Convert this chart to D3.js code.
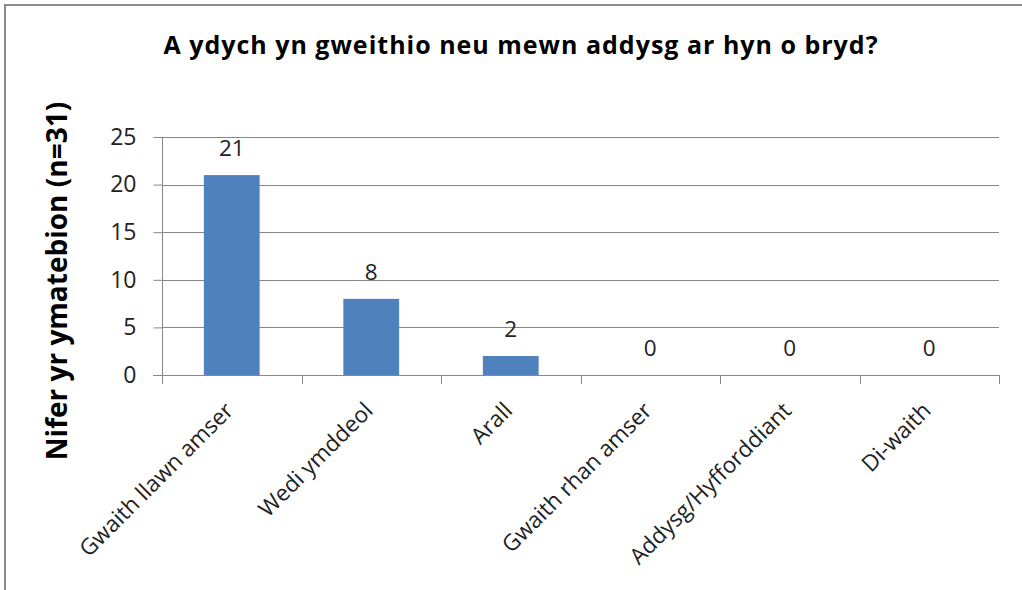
<!DOCTYPE html>
<html><head><meta charset="utf-8">
<script src="https://cdn.jsdelivr.net/npm/d3@7"></script>
<style>body{margin:0;background:#fff}svg{display:block}</style>
</head><body>
<script>
const title = "A ydych yn gweithio neu mewn addysg ar hyn o bryd?";
const yLabel = "Nifer yr ymatebion (n=31)";
const categories = ["Gwaith llawn amser","Wedi ymddeol","Arall","Gwaith rhan amser","Addysg/Hyfforddiant","Di-waith"];
const values = [21, 8, 2, 0, 0, 0];
const yTicks = [0, 5, 10, 15, 20, 25];

const W = 1022, H = 590;
const font = "'Open Sans', 'Liberation Sans', sans-serif";
const svg = d3.select("body").append("svg").attr("width", W).attr("height", H);
svg.append("rect").attr("width", W).attr("height", H).attr("fill", "#fff");
// frame (top and left visible)
svg.append("path").attr("d", `M5,${H} V5 H${W}`).attr("fill","none").attr("stroke","#8c8c8c").attr("stroke-width",2);

const x = d3.scaleBand().domain(categories).range([162, 999]).paddingInner(0.6).paddingOuter(0.3);
const xt = d3.scaleBand().domain(categories).range([162, 999]);
const y = d3.scaleLinear().domain([0, 25]).range([375, 137]);

// gridlines
svg.append("g").selectAll("line").data(yTicks.slice(1)).join("line")
  .attr("x1", 162).attr("x2", 999).attr("y1", d => Math.round(y(d))+0.5).attr("y2", d => Math.round(y(d))+0.5)
  .attr("stroke", "#878787").attr("stroke-width", 1);

// y axis
const yAxis = svg.append("g").attr("transform", "translate(162.5,0)")
  .call(d3.axisLeft(y).tickValues(yTicks).tickSize(9).tickPadding(17));
yAxis.select(".domain").attr("stroke", "#878787").attr("d", `M0,${y(25)}V${y(0)}`);
yAxis.selectAll(".tick line").attr("stroke", "#878787");
yAxis.selectAll(".tick text").attr("font-family", font).attr("font-size", 23).attr("fill", "#222");

// bars
svg.append("g").selectAll("rect").data(values).join("rect")
  .attr("x", (d,i) => x(categories[i])).attr("width", x.bandwidth())
  .attr("y", d => y(d)).attr("height", d => y(0) - y(d))
  .attr("fill", "#4f81bd");

// x axis
const xAxis = svg.append("g").attr("transform", `translate(0,${Math.round(y(0))+0.5})`)
  .call(d3.axisBottom(xt).tickSize(0).tickPadding(0));
xAxis.select(".domain").attr("stroke", "#878787").attr("d", `M153,0H999`);
xAxis.selectAll(".tick line").remove();
xAxis.selectAll(".tick text").remove();
svg.append("g").selectAll("line").data(d3.range(categories.length + 1)).join("line")
  .attr("x1", i => Math.round(162 + i * xt.step()) + 0.5).attr("x2", i => Math.round(162 + i * xt.step()) + 0.5)
  .attr("y1", y(0)).attr("y2", y(0) + 9).attr("stroke", "#878787");

// category labels
svg.append("g").selectAll("text").data(categories).join("text")
  .attr("transform", d => `translate(${xt(d) + xt.bandwidth()/2 + 3},${y(0) + 37}) rotate(-45)`)
  .attr("text-anchor", "end").attr("font-family", font).attr("font-size", 22.5).attr("fill", "#222")
  .text(d => d);

// data labels
svg.append("g").selectAll("text").data(values).join("text")
  .attr("x", (d,i) => x(categories[i]) + x.bandwidth()/2).attr("y", d => y(d) - 19)
  .attr("text-anchor", "middle").attr("font-family", font).attr("font-size", 22.5).attr("fill", "#222")
  .text(d => d);

// title
svg.append("text").attr("x", 521).attr("y", 54).attr("text-anchor", "middle")
  .attr("font-family", font).attr("font-size", 25).attr("font-weight", "bold").attr("letter-spacing", 1)
  .attr("fill", "#000").text(title);

// y label
svg.append("text").attr("transform", "translate(67,281) rotate(-90)").attr("text-anchor", "middle")
  .attr("font-family", font).attr("font-size", 28).attr("font-weight", "bold").attr("fill", "#000").text(yLabel);
</script>
</body></html>
